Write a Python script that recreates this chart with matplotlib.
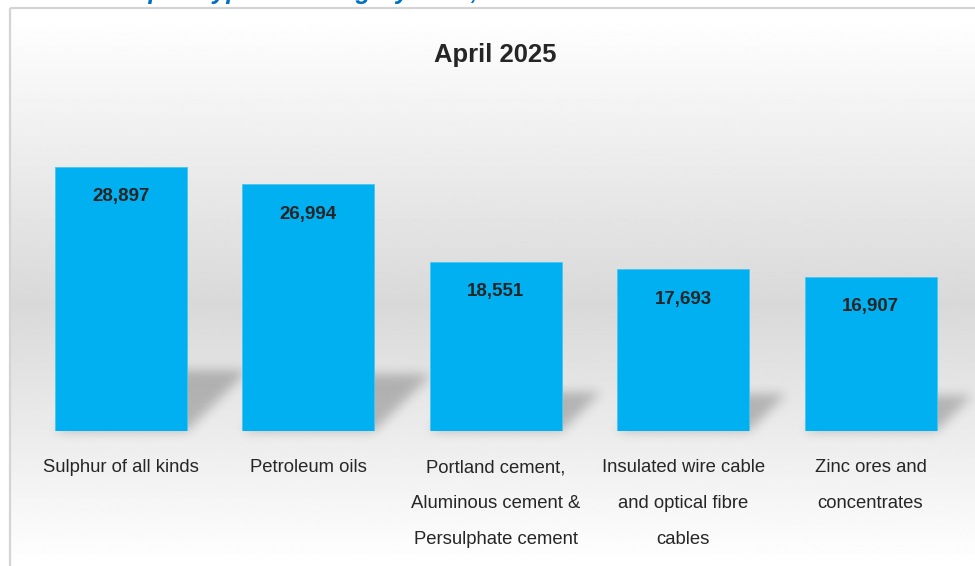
import numpy as np
import matplotlib
matplotlib.use("Agg")
import matplotlib.pyplot as plt
from matplotlib import font_manager
from matplotlib.patches import Polygon, Rectangle

# ---------- data ----------
categories = [
    "Sulphur of all kinds",
    "Petroleum oils",
    "Portland cement,\nAluminous cement &\nPersulphate cement",
    "Insulated wire cable\nand optical fibre\ncables",
    "Zinc ores and\nconcentrates",
]
values = [28897, 26994, 18551, 17693, 16907]
chart_title = "April 2025"
top_heading = "Export types in category wise, 2025"

BAR_COLOR = "#00B0F0"
TEXT_DARK = "#262626"


def pick_font(cands):
    for c in cands:
        try:
            font_manager.findfont(font_manager.FontProperties(family=c),
                                  fallback_to_default=False)
            return c
        except ValueError:
            pass
    return "DejaVu Sans"


FONT = pick_font(["Liberation Sans Narrow", "Liberation Sans", "Roboto"])
SCALE = 1.0 if "Narrow" in FONT else 0.82
plt.rcParams["font.family"] = [FONT, "DejaVu Sans"]


def shadow_filter(sigma, alpha):
    # gaussian blur on alpha channel -> soft black shadow
    r = int(3 * sigma)
    k = np.exp(-0.5 * (np.arange(-r, r + 1) / sigma) ** 2)
    k /= k.sum()

    def f(im, dpi):
        src = np.pad(im, ((r, r), (r, r), (0, 0)))
        a = src[:, :, 3] * alpha
        tmp = np.zeros_like(a)
        for i, w in enumerate(k):
            tmp += w * np.roll(a, i - r, axis=0)
        out_a = np.zeros_like(a)
        for i, w in enumerate(k):
            out_a += w * np.roll(tmp, i - r, axis=1)
        out = np.zeros_like(src)
        out[:, :, 3] = out_a
        return out, -r, -r
    return f


W, H = 975, 566
fig = plt.figure(figsize=(W / 100, H / 100), dpi=100)
fig.patch.set_facecolor("white")

# ---------- background gradient + frame ----------
bg = fig.add_axes([0, 0, 1, 1], zorder=-10)
bg.set_xlim(0, W)
bg.set_ylim(H, 0)
bg.axis("off")
ys = np.arange(H)
shade = np.interp(ys, [0, 8, 300, 566], [1.0, 1.0, 0.85, 1.0])
grad = np.repeat(shade[:, None], 2, axis=1)
bg.imshow(grad, cmap="gray", vmin=0, vmax=1, extent=[10, W + 5, H, 8],
          aspect="auto", interpolation="bilinear")
bg.add_patch(Rectangle((10, 8), W, H, fill=False, edgecolor="#d4d4d4", lw=1.6))

# ---------- main axes ----------
ax_left, ax_bottom = 27.25 / W, 135 / H
ax_w, ax_h = 937 / W, 331 / H
ax = fig.add_axes([ax_left, ax_bottom, ax_w, ax_h])
ax.patch.set_visible(False)
ymax = 36230
ax.set_ylim(0, ymax)
ax.set_xlim(-0.5, len(values) - 0.5)
for s in ax.spines.values():
    s.set_visible(False)
ax.set_yticks([])

x = np.arange(len(values))
bar_w = 0.704
bars = ax.bar(x, values, width=bar_w, color=BAR_COLOR, edgecolor="#4cc4f0",
              linewidth=0.6, zorder=3)

# perspective shadows
ppx = ax_w * W / len(values)
ppy = ax_h * H / ymax
for xi, v in zip(x, values):
    sh = 0.23 * v
    dx = sh * ppy / ppx
    poly = Polygon([(xi - bar_w / 2, 0), (xi + bar_w / 2, 0),
                    (xi + bar_w / 2 + dx, sh), (xi - bar_w / 2 + dx, sh)],
                   closed=True, facecolor="black", edgecolor="none",
                   zorder=1, clip_on=False)
    poly.set_agg_filter(shadow_filter(5.5, 0.23))
    ax.add_patch(poly)

# value labels
for xi, v in zip(x, values):
    ax.annotate(f"{v:,}", (xi, v), xytext=(0, -30 * 0.72),
                textcoords="offset points", ha="center", va="center",
                fontsize=16.5 * SCALE, fontweight="bold", color=TEXT_DARK,
                zorder=4)

ax.set_xticks(x)
ax.set_xticklabels(categories, fontsize=16.2 * SCALE, color=TEXT_DARK,
                   linespacing=2.46)
ax.tick_params(axis="x", length=0, pad=20.5)

# ---------- titles ----------
fig.text(495 / W, 1 - 55 / H, chart_title, ha="center", va="center",
         fontsize=22.5 * SCALE, fontweight="bold", color=TEXT_DARK)
fig.text(118 / W, 1 + 1 / H, top_heading, ha="left", va="baseline",
         fontsize=18, fontweight="bold", fontstyle="italic", color="#0070C0")

fig.savefig("out.png", dpi=100)
